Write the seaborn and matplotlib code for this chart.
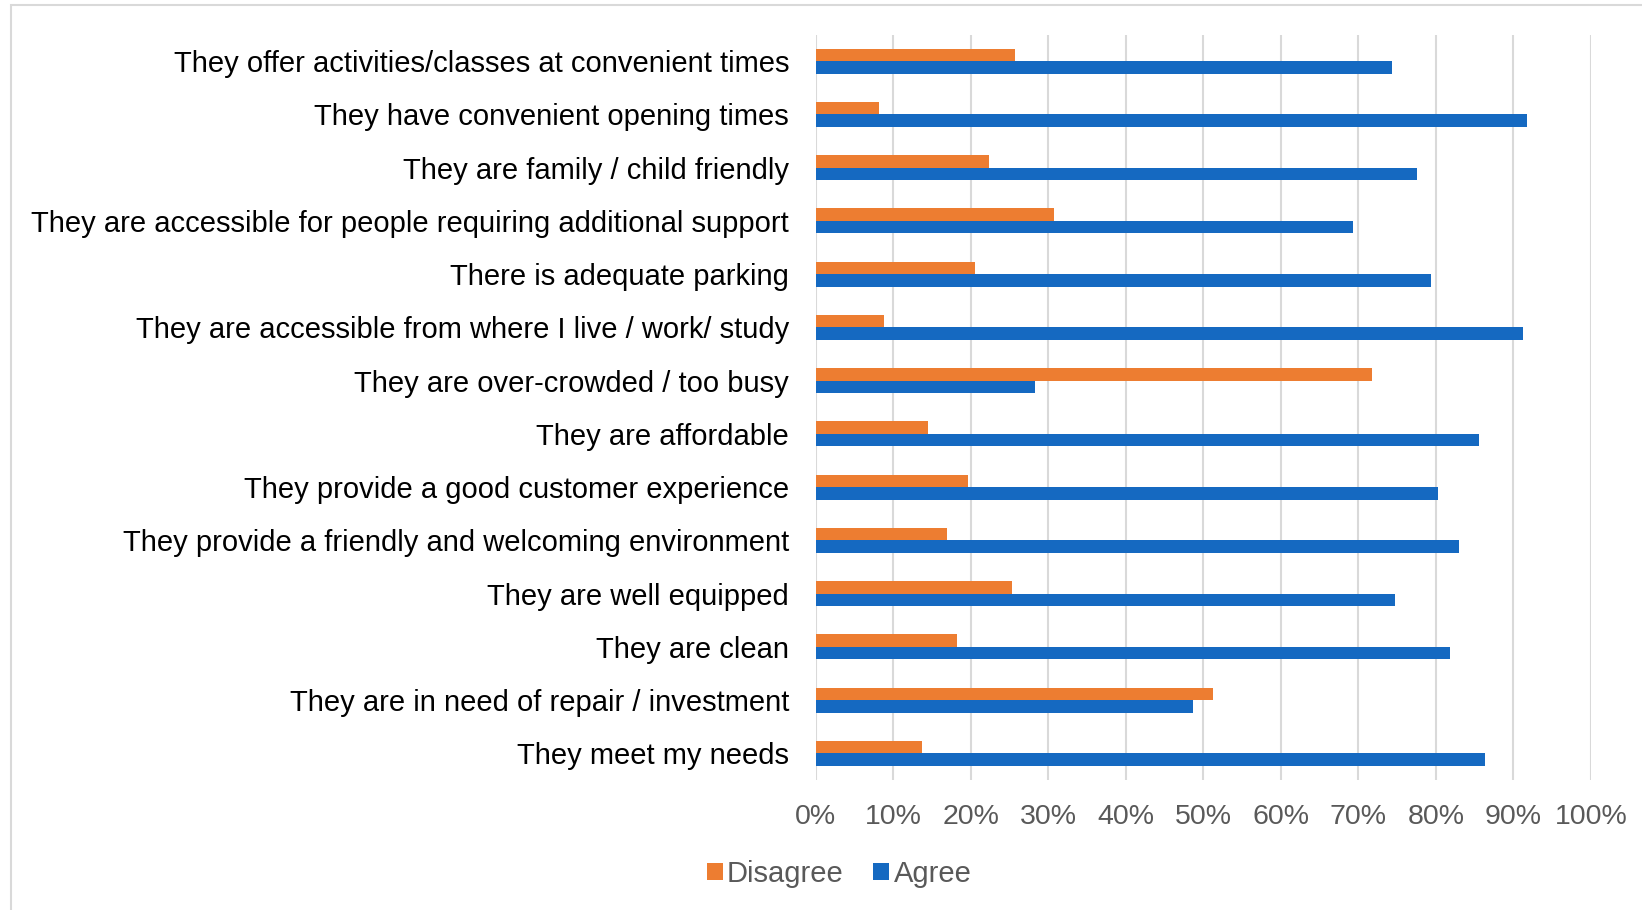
import matplotlib
matplotlib.use("Agg")
import matplotlib.pyplot as plt
from matplotlib.patches import Rectangle
from matplotlib.ticker import PercentFormatter
import pandas as pd
import seaborn as sns

statements = [
    "They offer activities/classes at convenient times",
    "They have convenient opening times",
    "They are family / child friendly",
    "They are accessible for people requiring additional support",
    "There is adequate parking",
    "They are accessible from where I live / work/ study",
    "They are over-crowded / too busy",
    "They are affordable",
    "They provide a good customer experience",
    "They provide a friendly and welcoming environment",
    "They are well equipped",
    "They are clean",
    "They are in need of repair / investment",
    "They meet my needs",
]
disagree = [25.7, 8.2, 22.4, 30.7, 20.6, 8.8, 71.7, 14.5, 19.7, 17.0, 25.3, 18.2, 51.3, 13.7]
agree = [74.3, 91.8, 77.6, 69.3, 79.4, 91.2, 28.3, 85.5, 80.3, 83.0, 74.7, 81.8, 48.7, 86.3]
responses = ["Disagree", "Agree"]
x_ticks = list(range(0, 101, 10))

df = pd.DataFrame({
    "Statement": statements * 2,
    "Response": [responses[0]] * len(statements) + [responses[1]] * len(statements),
    "Share": disagree + agree,
})

sns.set_theme(style="white")
plt.rcParams["font.family"] = ["Liberation Sans", "DejaVu Sans"]

W, H = 1642, 910
fig = plt.figure(figsize=(W / 100, H / 100), dpi=100)
fig.patch.set_facecolor("white")

# outer chart frame
fig.patches.append(Rectangle((10.5 / W, -0.05), 1.2, 1 - 5 / H + 0.05,
                             transform=fig.transFigure, fill=False,
                             edgecolor="#D9D9D9", linewidth=1.5))

left, right = 815.5 / W, 1591 / W
top, bottom = 1 - 34.5 / H, 1 - 780 / H
ax = fig.add_axes([left, bottom, right - left, top - bottom])

palette = {"Disagree": "#ED7D31", "Agree": "#1569C1"}
sns.barplot(data=df, y="Statement", x="Share", hue="Response",
            hue_order=responses, order=statements, palette=palette,
            orient="h", width=0.47, gap=0, linewidth=0, saturation=1,
            errorbar=None, ax=ax)

ax.set_xlim(0, 100)
ax.set_xticks(x_ticks)
ax.xaxis.set_major_formatter(PercentFormatter(decimals=0))
ax.set_xlabel("")
ax.set_ylabel("")
ax.grid(axis="x", color="#D9D9D9", linewidth=1.5)
ax.set_axisbelow(True)
for s in ax.spines.values():
    s.set_visible(False)
ax.tick_params(axis="y", length=0, pad=19, labelsize=21, labelcolor="black")
ax.tick_params(axis="x", length=0, pad=17, labelsize=20.5, labelcolor="#595959")

handles, labels = ax.get_legend_handles_labels()
if ax.legend_ is not None:
    ax.legend_.remove()
fig.legend(handles, labels, loc="center", bbox_to_anchor=(839 / W, 1 - 874 / H),
           ncol=2, frameon=False, fontsize=21, labelcolor="#595959",
           handlelength=0.55, handleheight=0.55, handletextpad=0.15,
           columnspacing=1.0)

fig.savefig("out.png", dpi=100, facecolor="white")
